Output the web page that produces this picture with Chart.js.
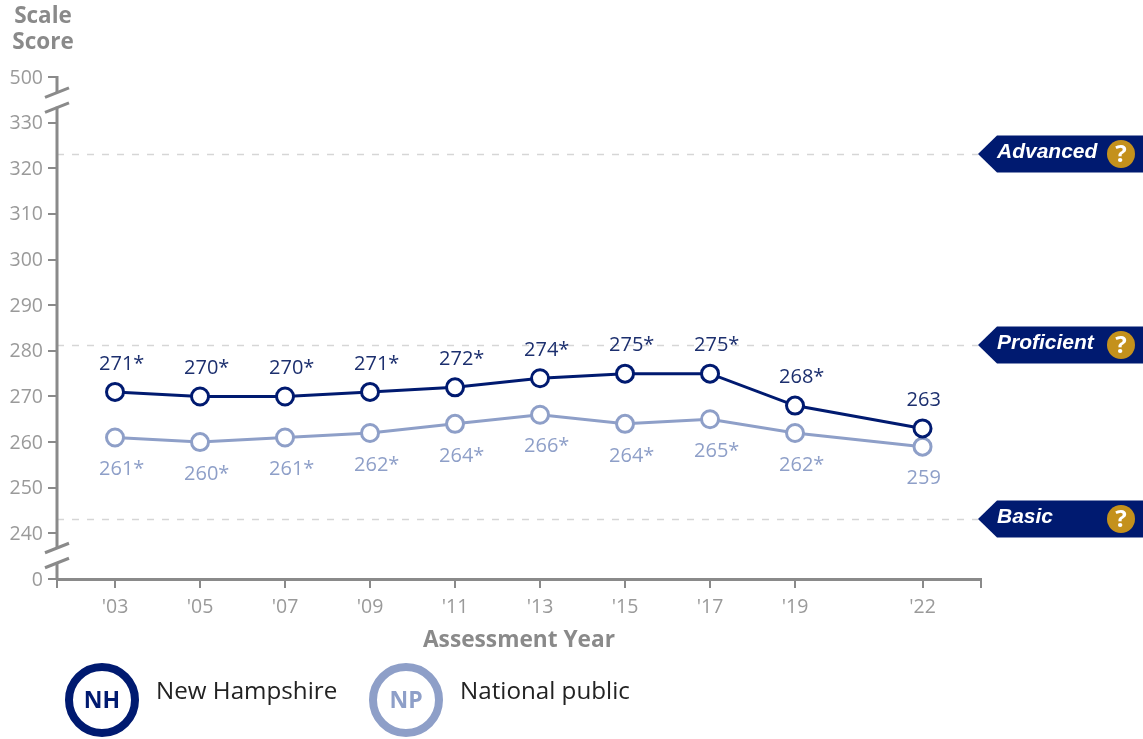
<!DOCTYPE html>
<html>
<head>
<meta charset="utf-8">
<title>Scale Score</title>
<style>
  html, body { margin: 0; padding: 0; background: #fff; }
  canvas { display: block; }
</style>
<script src="https://cdn.jsdelivr.net/npm/chart.js@4/dist/chart.umd.min.js"></script>
</head>
<body>
<canvas id="myChart" width="1143" height="739"></canvas>
<script>
const years = [2003, 2005, 2007, 2009, 2011, 2013, 2015, 2017, 2019, 2022];
const yearLabels = ["'03", "'05", "'07", "'09", "'11", "'13", "'15", "'17", "'19", "'22"];
const nhValues = [271, 270, 270, 271, 272, 274, 275, 275, 268, 263];
const npValues = [261, 260, 261, 262, 264, 266, 264, 265, 262, 259];
const nhLabels = ["271*", "270*", "270*", "271*", "272*", "274*", "275*", "275*", "268*", "263"];
const npLabels = ["261*", "260*", "261*", "262*", "264*", "266*", "264*", "265*", "262*", "259"];

// the two outer y ticks sit past the axis breaks, 230 stands for 0 and 340 for 500
const yTicks = [230, 240, 250, 260, 270, 280, 290, 300, 310, 320, 330, 340];
const yTickLabels = ["0", "240", "250", "260", "270", "280", "290", "300", "310", "320", "330", "500"];
const axisBreaks = [235.2, 335];

const levelNames = ["Advanced", "Proficient", "Basic"];
const levelValues = [323, 281, 243];

const navy = "#001a70";
const lightBlue = "#8e9fc8";
const axisGrey = "#8a8a8a";
const tickGrey = "#9a9a9a";
const textFont = "'Open Sans'";

function toPoints(values) {
    return values.map((v, i) => ({ x: years[i], y: v }));
}

const decorations = {
    id: "decorations",
    beforeDatasetsDraw(chart) {
        const ctx = chart.ctx;
        const y = chart.scales.y;
        const left = chart.chartArea.left;

        // dashed achievement level lines
        ctx.save();
        ctx.strokeStyle = "#d6d6d6";
        ctx.lineWidth = 1.5;
        ctx.setLineDash([7, 8]);
        levelValues.forEach((v) => {
            const py = Math.round(y.getPixelForValue(v)) - 0.5;
            ctx.beginPath();
            ctx.moveTo(left, py);
            ctx.lineTo(978, py);
            ctx.stroke();
        });
        ctx.restore();

        // y axis line, broken twice
        const top = y.getPixelForValue(340);
        const bottom = y.getPixelForValue(230);
        const b1 = y.getPixelForValue(axisBreaks[1]);
        const b2 = y.getPixelForValue(axisBreaks[0]);
        ctx.save();
        ctx.strokeStyle = axisGrey;
        ctx.lineWidth = 3;
        ctx.beginPath();
        ctx.moveTo(left, top - 1);
        ctx.lineTo(left, b1 - 7);
        ctx.moveTo(left, b1 + 7);
        ctx.lineTo(left, b2 - 7);
        ctx.moveTo(left, b2 + 7);
        ctx.lineTo(left, bottom);
        ctx.stroke();
        [b1, b2].forEach((b) => {
            [-7.5, 7.5].forEach((d) => {
                ctx.beginPath();
                ctx.moveTo(left - 12, b + d + 5);
                ctx.lineTo(left + 12, b + d - 4.5);
                ctx.stroke();
            });
        });
        ctx.restore();

        // heading over the y axis
        ctx.save();
        ctx.fillStyle = axisGrey;
        ctx.font = "bold 22.5px " + textFont;
        ctx.textAlign = "center";
        ctx.textBaseline = "middle";
        ctx.fillText("Scale", 43, 17);
        ctx.fillText("Score", 43, 43);
        ctx.restore();
    },
    afterDatasetsDraw(chart) {
        const ctx = chart.ctx;
        const y = chart.scales.y;

        // value labels
        ctx.save();
        ctx.font = "20px " + textFont;
        ctx.textAlign = "left";
        ctx.textBaseline = "middle";
        chart.getDatasetMeta(0).data.forEach((pt, i) => {
            ctx.fillStyle = "#1c2f6e";
            ctx.fillText(nhLabels[i], pt.x - 16, pt.y - 28);
        });
        chart.getDatasetMeta(1).data.forEach((pt, i) => {
            ctx.fillStyle = lightBlue;
            ctx.fillText(npLabels[i], pt.x - 16, pt.y + 32);
        });
        ctx.restore();

        // achievement level flags
        levelValues.forEach((v, i) => {
            const py = Math.round(y.getPixelForValue(v)) - 1;
            ctx.save();
            ctx.fillStyle = navy;
            ctx.beginPath();
            ctx.moveTo(978, py);
            ctx.lineTo(997, py - 18.5);
            ctx.lineTo(1143, py - 18.5);
            ctx.lineTo(1143, py + 18.5);
            ctx.lineTo(997, py + 18.5);
            ctx.closePath();
            ctx.fill();
            ctx.fillStyle = "#fff";
            ctx.font = "italic bold 21px 'Liberation Sans'";
            ctx.textAlign = "left";
            ctx.textBaseline = "middle";
            ctx.fillText(levelNames[i], 997, py - 2);
            ctx.fillStyle = "#c4911c";
            ctx.beginPath();
            ctx.arc(1121, py, 14, 0, Math.PI * 2);
            ctx.fill();
            ctx.fillStyle = "#fff";
            ctx.font = "bold 24px 'Open Sans'";
            ctx.textAlign = "center";
            ctx.fillText("?", 1121, py + 1);
            ctx.restore();
        });

        // legend
        const legend = [
            { x: 102, text: "NH", name: "New Hampshire", color: navy },
            { x: 406, text: "NP", name: "National public", color: lightBlue }
        ];
        legend.forEach((l) => {
            ctx.save();
            ctx.strokeStyle = l.color;
            ctx.lineWidth = 8;
            ctx.beginPath();
            ctx.arc(l.x, 700, 33, 0, Math.PI * 2);
            ctx.stroke();
            ctx.fillStyle = l.color;
            ctx.font = "bold 23px " + textFont;
            ctx.textAlign = "center";
            ctx.textBaseline = "middle";
            ctx.fillText(l.text, l.x, 701);
            ctx.fillStyle = "#222";
            ctx.font = "24.2px " + textFont;
            ctx.textAlign = "left";
            ctx.fillText(l.name, l.x + 54, 692);
            ctx.restore();
        });
    }
};

const chart = new Chart(document.getElementById("myChart").getContext("2d"), {
    type: "line",
    data: {
        datasets: [
            {
                label: "New Hampshire",
                data: toPoints(nhValues),
                borderColor: navy,
                borderWidth: 3,
                pointRadius: 8.5,
                pointBorderWidth: 3,
                pointBackgroundColor: "#fff",
                pointBorderColor: navy,
                tension: 0
            },
            {
                label: "National public",
                data: toPoints(npValues),
                borderColor: lightBlue,
                borderWidth: 3,
                pointRadius: 8.5,
                pointBorderWidth: 3,
                pointBackgroundColor: "#fff",
                pointBorderColor: lightBlue,
                tension: 0
            }
        ]
    },
    options: {
        responsive: false,
        animation: false,
        layout: { padding: { top: 77, right: 162, bottom: 85, left: 0 } },
        plugins: { legend: { display: false }, tooltip: { enabled: false } },
        scales: {
            x: {
                type: "linear",
                min: 2001.635,
                max: 2023.376,
                afterBuildTicks(axis) {
                    axis.ticks = [axis.min].concat(years, [axis.max]).map((v) => ({ value: v }));
                },
                afterFit(axis) { axis.height = 75; },
                grid: { drawOnChartArea: false, tickLength: 9, lineWidth: 2, color: axisGrey },
                border: { display: true, color: axisGrey, width: 3 },
                ticks: {
                    autoSkip: false,
                    maxRotation: 0,
                    padding: 8,
                    color: tickGrey,
                    font: { family: textFont, size: 19.5 },
                    callback(v) {
                        const i = years.indexOf(v);
                        return i < 0 ? "" : yearLabels[i];
                    }
                },
                title: {
                    display: true,
                    text: "Assessment Year",
                    color: axisGrey,
                    padding: 0,
                    font: { family: textFont, size: 22.7, weight: "bold" }
                }
            },
            y: {
                min: 230,
                max: 340,
                afterBuildTicks(axis) {
                    axis.ticks = yTicks.map((v) => ({ value: v }));
                },
                afterFit(axis) { axis.width = 57; },
                grid: { drawOnChartArea: false, tickLength: 9, lineWidth: 2, color: axisGrey },
                border: { display: false },
                ticks: {
                    autoSkip: false,
                    padding: 5,
                    labelOffset: 1,
                    color: tickGrey,
                    font: { family: textFont, size: 19.5 },
                    callback(v) {
                        return yTickLabels[yTicks.indexOf(v)];
                    }
                }
            }
        }
    },
    plugins: [decorations]
});
</script>
</body>
</html>
